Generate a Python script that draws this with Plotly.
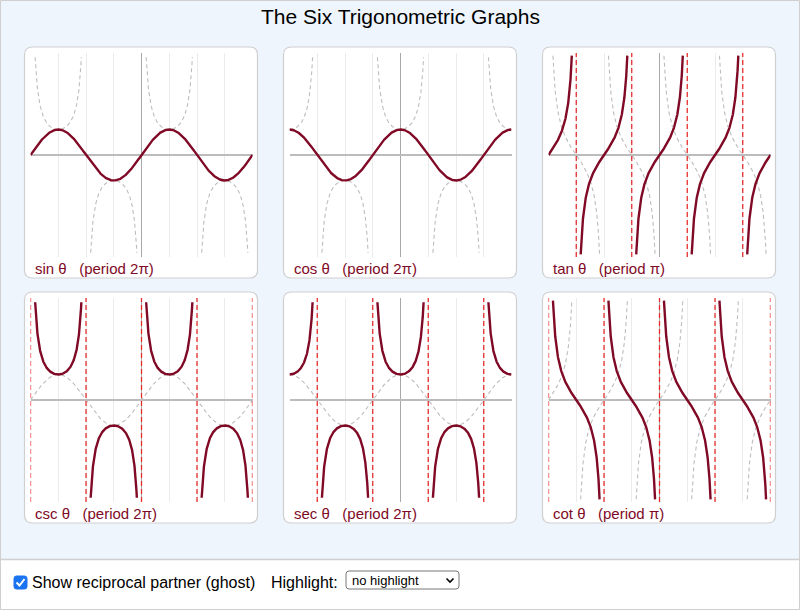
import numpy as np
import plotly.graph_objects as go

W, H = 800, 614
PI = np.pi

# ---------------- data ----------------
functions = ["sin", "cos", "tan", "csc", "sec", "cot"]
ghost_partner = ["csc", "sec", "cot", "sin", "cos", "tan"]
panel_labels = [
    "sin θ   (period 2π)",
    "cos θ   (period 2π)",
    "tan θ   (period π)",
    "csc θ   (period 2π)",
    "sec θ   (period 2π)",
    "cot θ   (period π)",
]
asymptotes = {
    "sin": [],
    "cos": [],
    "tan": [-3 * PI / 2, -PI / 2, PI / 2, 3 * PI / 2],
    "csc": [-2 * PI, -PI, 0.0, PI, 2 * PI],
    "sec": [-3 * PI / 2, -PI / 2, PI / 2, 3 * PI / 2],
    "cot": [-2 * PI, -PI, 0.0, PI, 2 * PI],
}
x_range = [-2 * PI, 2 * PI]
y_range = [-4, 4]
grid_ticks = [k * PI / 2 for k in range(-4, 5)]
clip_value = 3.9
theta = np.linspace(-2 * PI, 2 * PI, 2001)

title_text = "The Six Trigonometric Graphs"
checkbox_text = "Show reciprocal partner (ghost)"
highlight_text = "Highlight:"
dropdown_text = "no highlight"

# ---------------- styles ----------------
MAIN = "#800a26"
GHOST = "#bdbdbd"
ASYM = "rgba(232,36,36,0.95)"
BLUE_BG = "#eef5fd"
BORDER = "#cfcfcf"
FONT = "Liberation Sans, Arial, Helvetica, sans-serif"


def evaluate(name, t):
    s, c = np.sin(t), np.cos(t)
    with np.errstate(divide="ignore", invalid="ignore"):
        y = {"sin": s, "cos": c, "tan": s / c,
             "csc": 1 / s, "sec": 1 / c, "cot": c / s}[name]
    return np.where(np.abs(y) <= clip_value, y, np.nan)


def X(px):
    return px / W


def Y(py):
    return 1 - py / H


def rounded_rect(x0, y0, x1, y1, r):
    pts = [
        f"M {X(x0 + r)},{Y(y0)}",
        f"L {X(x1 - r)},{Y(y0)}",
        f"Q {X(x1)},{Y(y0)} {X(x1)},{Y(y0 + r)}",
        f"L {X(x1)},{Y(y1 - r)}",
        f"Q {X(x1)},{Y(y1)} {X(x1 - r)},{Y(y1)}",
        f"L {X(x0 + r)},{Y(y1)}",
        f"Q {X(x0)},{Y(y1)} {X(x0)},{Y(y1 - r)}",
        f"L {X(x0)},{Y(y0 + r)}",
        f"Q {X(x0)},{Y(y0)} {X(x0 + r)},{Y(y0)}",
        "Z",
    ]
    return " ".join(pts)


fig = go.Figure()
shapes = []
annotations = []

# page background pieces
shapes.append(dict(type="rect", xref="paper", yref="paper",
                   x0=X(0.5), x1=X(799.5), y0=Y(609.5), y1=Y(0.5),
                   fillcolor="white", line=dict(color=BORDER, width=1), layer="below"))
shapes.append(dict(type="rect", xref="paper", yref="paper",
                   x0=X(1), x1=X(799), y0=Y(559), y1=Y(1),
                   fillcolor=BLUE_BG, line=dict(width=0), layer="below"))
shapes.append(dict(type="line", xref="paper", yref="paper",
                   x0=X(0.5), x1=X(799.5), y0=Y(559.5), y1=Y(559.5),
                   line=dict(color=BORDER, width=1.5), layer="below"))

layout_axes = {}
BOX_W, BOX_H = 233, 231
PLOT_W, PLOT_H = 222, 204

for i, name in enumerate(functions):
    r, c = divmod(i, 3)
    L = 24.5 + 259 * c
    T = 47 + 245 * r
    px0 = L + 6.0
    py0 = T + 6.0
    sfx = "" if i == 0 else str(i + 1)
    xa, ya = "x" + sfx, "y" + sfx

    shapes.append(dict(type="path", xref="paper", yref="paper",
                       path=rounded_rect(L, T, L + BOX_W, T + BOX_H, 8),
                       fillcolor="white", line=dict(color=BORDER, width=1.2),
                       layer="below"))

    layout_axes["xaxis" + sfx] = dict(
        domain=[X(px0), X(px0 + PLOT_W)], range=x_range, anchor=ya,
        tickmode="array", tickvals=grid_ticks, showticklabels=False, ticks="",
        showgrid=True, gridcolor="#ebebeb", gridwidth=1,
        zeroline=True, zerolinecolor="#a8a8a8", zerolinewidth=1.2,
        showline=False, fixedrange=True)
    layout_axes["yaxis" + sfx] = dict(
        domain=[Y(py0 + PLOT_H), Y(py0)], range=y_range, anchor=xa,
        showgrid=False, showticklabels=False, ticks="",
        zeroline=True, zerolinecolor="#bcbcbc", zerolinewidth=2,
        showline=False, fixedrange=True)

    # ghost (reciprocal partner)
    fig.add_trace(go.Scatter(
        x=theta, y=evaluate(ghost_partner[i], theta), mode="lines",
        line=dict(color=GHOST, width=1.1, dash="4px,3px"),
        xaxis=xa, yaxis=ya, hoverinfo="skip", showlegend=False))

    # asymptotes
    ax_x, ax_y = [], []
    for a in asymptotes[name]:
        ax_x += [a, a, None]
        ax_y += [y_range[0], y_range[1], None]
    if ax_x:
        fig.add_trace(go.Scatter(
            x=ax_x, y=ax_y, mode="lines",
            line=dict(color=ASYM, width=1.3, dash="5px,3px"),
            xaxis=xa, yaxis=ya, hoverinfo="skip", showlegend=False,
            cliponaxis=False))

    # main curve
    fig.add_trace(go.Scatter(
        x=theta, y=evaluate(name, theta), mode="lines",
        line=dict(color=MAIN, width=2.4),
        xaxis=xa, yaxis=ya, showlegend=False, name=name))

    annotations.append(dict(
        xref="paper", yref="paper", x=X(L + 8), y=Y(T + 221),
        xanchor="left", yanchor="middle", showarrow=False,
        text=panel_labels[i].replace(" ", "\u00a0"),
        font=dict(family=FONT, size=15, color=MAIN)))

# title
annotations.append(dict(
    xref="paper", yref="paper", x=0.5, y=Y(16.5), xanchor="center", yanchor="middle",
    showarrow=False, text=title_text, font=dict(family=FONT, size=21, color="black")))

# checkbox
shapes.append(dict(type="path", xref="paper", yref="paper",
                   path=rounded_rect(14, 576, 27, 589, 2.5),
                   fillcolor="#1a73f0", line=dict(color="#1a73f0", width=1)))
shapes.append(dict(type="path", xref="paper", yref="paper",
                   path=f"M {X(16.5)},{Y(582.5)} L {X(19.5)},{Y(585.5)} L {X(24.5)},{Y(579)}",
                   line=dict(color="white", width=2)))
annotations.append(dict(
    xref="paper", yref="paper", x=X(29.5), y=Y(582.5), xanchor="left", yanchor="middle",
    showarrow=False, text=checkbox_text, font=dict(family=FONT, size=16, color="black")))
annotations.append(dict(
    xref="paper", yref="paper", x=X(269), y=Y(582.5), xanchor="left", yanchor="middle",
    showarrow=False, text=highlight_text, font=dict(family=FONT, size=16, color="black")))

# dropdown
shapes.append(dict(type="path", xref="paper", yref="paper",
                   path=rounded_rect(346, 571, 459, 589, 3),
                   fillcolor="white", line=dict(color="#767676", width=1)))
shapes.append(dict(type="path", xref="paper", yref="paper",
                   path=f"M {X(446.5)},{Y(578.5)} L {X(450)},{Y(582)} L {X(453.5)},{Y(578.5)}",
                   line=dict(color="black", width=1.6)))
annotations.append(dict(
    xref="paper", yref="paper", x=X(350), y=Y(580), xanchor="left", yanchor="middle",
    showarrow=False, text=dropdown_text, font=dict(family=FONT, size=13, color="black")))

fig.update_layout(
    width=W, height=H, margin=dict(l=0, r=0, t=0, b=0),
    paper_bgcolor="white", plot_bgcolor="rgba(0,0,0,0)",
    shapes=shapes, annotations=annotations, showlegend=False,
    **layout_axes)

fig.write_html("out.html", config={"displayModeBar": False})
